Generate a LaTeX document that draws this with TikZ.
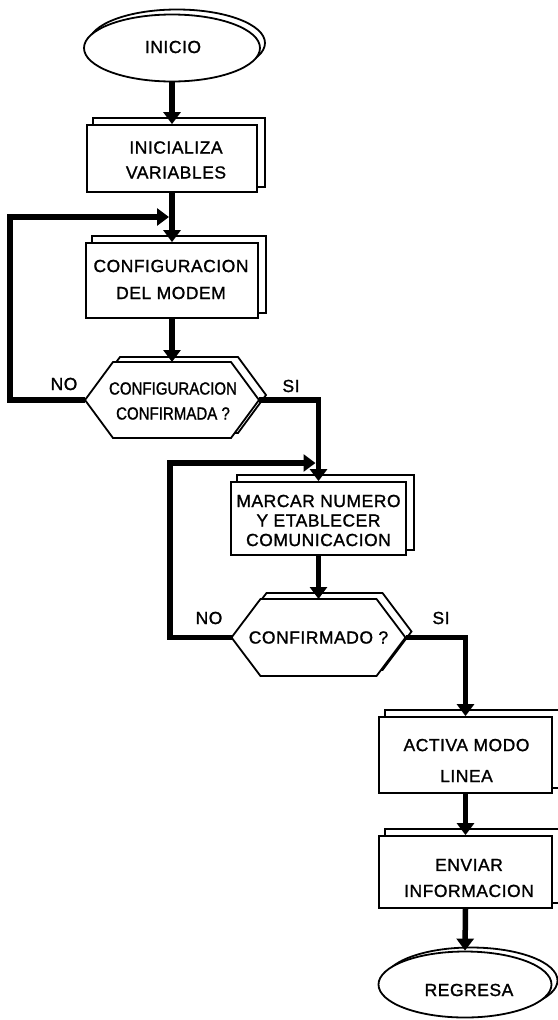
\documentclass[tikz,border=0pt]{standalone}
\usepackage{fontspec}
\setmainfont{Liberation Sans}[LetterSpace=3, FakeBold=1.2]
\usetikzlibrary{arrows.meta,shapes.geometric,calc}
\pgfdeclarelayer{back}
\pgfsetlayers{back,main}

\begin{document}
\begin{tikzpicture}[x=1pt,y=-1pt,
  outline/.style={line width=1.8pt, draw=black, fill=white},
  procbox/.style={outline, rectangle, inner sep=0pt},
  terminal/.style={outline, ellipse, inner sep=0pt, minimum width=176pt, minimum height=67pt},
  txt/.style={align=center, inner sep=0pt, font=\fontsize{17.5}{#1}\selectfont},
  txt/.default=20pt,
  narrow/.style={align=center, inner sep=0pt,
    font=\fontsize{17.5}{#1}\selectfont\addfontfeatures{FakeStretch=0.86,LetterSpace=0}},
  flow/.style={line width=5.5pt, line join=miter, -{Triangle[width=17pt,length=12pt]}},
]
\useasboundingbox (0,0) rectangle (557,1020);

% ---- start terminal
\node[terminal] (s) at (172,48) {};
\node[txt] (ts) at (173,47) {INICIO};

% ---- process boxes
\node[procbox, minimum width=170pt, minimum height=67pt] (b1) at (172,158.5) {};
\node[txt=25pt] (t1) at (176,160) {INICIALIZA\\VARIABLES};

\node[procbox, minimum width=172pt, minimum height=75pt] (b2) at (172,280.5) {};
\node[txt=27pt] (t2) at (171,279.5) {CONFIGURACION\\DEL MODEM};

% ---- first decision (hexagon)
\coordinate (d1w) at (85,400);
\coordinate (d1e) at (259,400);
\coordinate (d1n) at (172,362);
\draw[outline] (d1w) -- ++(28,-38) -- ++(118,0) -- (d1e) -- ++(-28,38) -- ++(-118,0) -- cycle;
\node[narrow=25pt] (t3) at (173,401) {CONFIGURACION\\CONFIRMADA ?};
\node[txt] (no1) at (64,384) {NO};
\node[txt] (si1) at (291,386) {SI};

\node[procbox, minimum width=175pt, minimum height=73pt] (b3) at (318.5,518.5) {};
\node[txt=19.5pt] (t4) at (318.5,520.5) {MARCAR NUMERO\\Y ETABLECER\\COMUNICACION};

% ---- second decision (hexagon)
\coordinate (d2w) at (231.5,637.5);
\coordinate (d2e) at (405.5,637.5);
\coordinate (d2n) at (318.5,599);
\draw[outline] (d2w) -- ++(29,-38.5) -- ++(116,0) -- (d2e) -- ++(-29,38.5) -- ++(-116,0) -- cycle;
\node[txt] (t5) at (318.5,637.5) {CONFIRMADO ?};
\node[txt] (no2) at (209,618) {NO};
\node[txt] (si2) at (441,618) {SI};

\node[procbox, minimum width=173pt, minimum height=76pt] (b4) at (465.5,755) {};
\node[txt=31pt] (t6) at (466.5,760.5) {ACTIVA MODO\\LINEA};

\node[procbox, minimum width=173pt, minimum height=72pt] (b5) at (465.5,872) {};
\node[txt=26pt] (t7) at (469,878) {ENVIAR\\INFORMACION};

% ---- end terminal
\node[terminal, minimum width=173pt, minimum height=66pt] (e) at (465,984.5) {};
\node[txt] (te) at (469,990) {REGRESA};

% ---- offset copies behind every shape
\begin{pgfonlayer}{back}
  \draw[outline] ([shift={(5,-5)}]s.center) ellipse [x radius=88pt, y radius=33.5pt];
  \foreach \b in {b1,b2,b3,b4,b5}
    \draw[outline] ([shift={(7,-6)}]\b.north west) rectangle ([shift={(7,-6)}]\b.south east);
  \draw[outline] ([shift={(7,-5)}]d1w) -- ++(28,-38) -- ++(118,0) -- ++(28,38) -- ++(-28,38) -- ++(-118,0) -- cycle;
  \draw[outline] ([shift={(6,-6)}]d2w) -- ++(29,-38.5) -- ++(116,0) -- ++(29,38.5) -- ++(-29,38.5) -- ++(-116,0) -- cycle;
  \draw[outline] ([shift={(6,-4)}]e.center) ellipse [x radius=86.5pt, y radius=33pt];
\end{pgfonlayer}

% ---- connectors
\coordinate (l1a) at (10,400);
\coordinate (l1b) at (10,217);
\coordinate (l2a) at (170,637.5);
\coordinate (l2b) at (170,463);

\draw[flow] (s.south) -- (b1.north);
\draw[flow] (b1.south) -- (b2.north);
\draw[flow] (b2.south) -- (d1n);
\draw[flow] (d1w) -- (l1a) -- (l1b) -- ($(l1b -| b2.north)+(-3,0)$);
\draw[flow] (d1e) -| (b3.north);
\draw[flow] (b3.south) -- (d2n);
\draw[flow] (d2w) -- (l2a) -- (l2b) -- ($(l2b -| b3.north)+(-3,0)$);
\draw[flow] (d2e) -| (b4.north);
\draw[flow] (b4.south) -- (b5.north);
\draw[flow] (b5.south) -- (e.north);
\end{tikzpicture}
\end{document}
